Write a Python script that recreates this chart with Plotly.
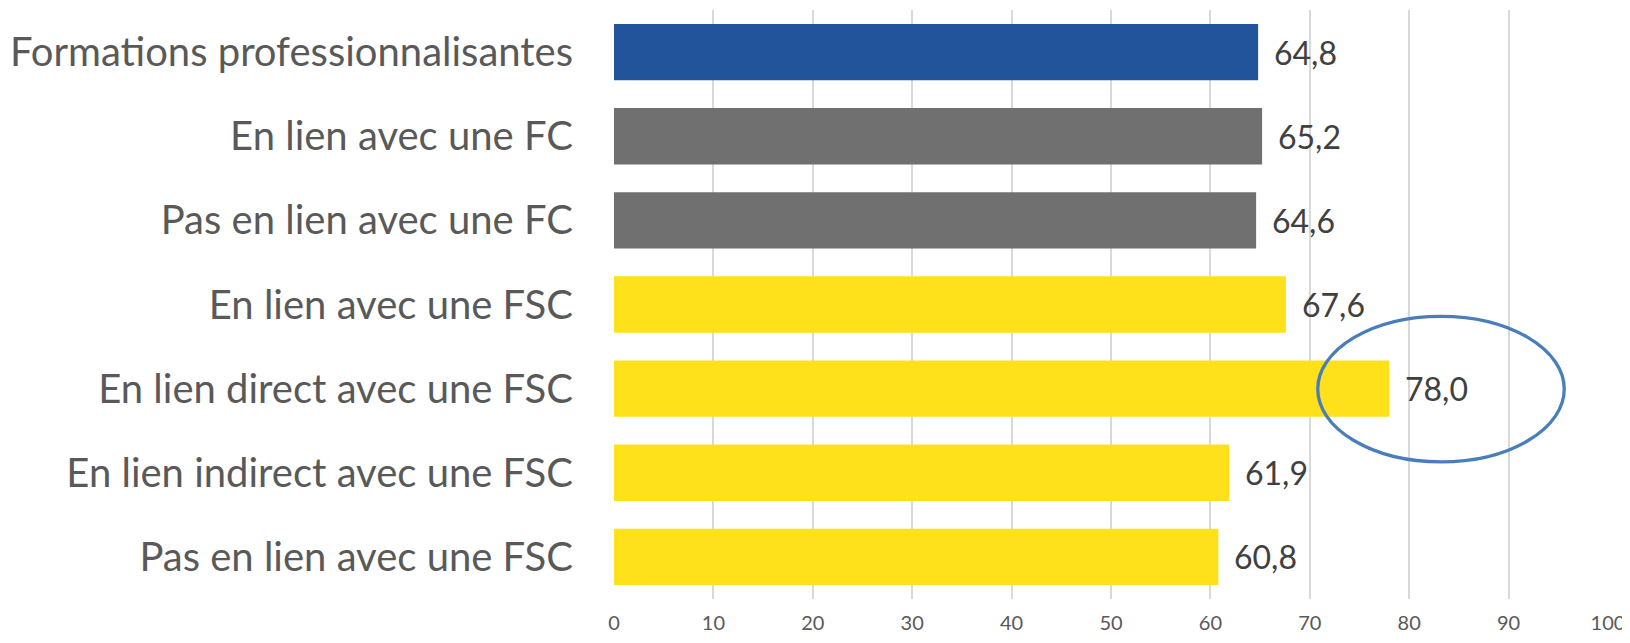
import plotly.graph_objects as go

categories = [
    "Formations professionnalisantes",
    "En lien avec une FC",
    "Pas en lien avec une FC",
    "En lien avec une FSC",
    "En lien direct avec une FSC",
    "En lien indirect avec une FSC",
    "Pas en lien avec une FSC",
]
values = [64.8, 65.2, 64.6, 67.6, 78.0, 61.9, 60.8]
bar_colors = ["#21549A", "#707070", "#707070", "#FEE11B", "#FEE11B", "#FEE11B", "#FEE11B"]
x_ticks = [0, 10, 20, 30, 40, 50, 60, 70, 80, 90, 100]

fig = go.Figure()
fig.add_trace(go.Bar(
    y=categories,
    x=values,
    orientation="h",
    marker=dict(color=bar_colors, line=dict(width=0)),
    showlegend=False,
    hoverinfo="skip",
))

for cat, v in zip(categories, values):
    fig.add_annotation(
        x=v, y=cat, xref="x", yref="y",
        text=f"{v:.1f}".replace(".", ","),
        showarrow=False, xanchor="left", xshift=14,
        font=dict(family="Lato", size=32, color="#404040"),
    )

# highlight ellipse around the "En lien direct avec une FSC" value
fig.add_shape(
    type="circle", xref="x", yref="y",
    x0=70.8, x1=95.6, y0=3.14, y1=4.87,
    line=dict(color="#4A7EBB", width=3.3),
    fillcolor="rgba(0,0,0,0)",
)

# page body has an 8px default margin, so the figure is sized to fit the window
fig.update_layout(
    width=1622, height=635,
    margin=dict(l=606, r=22, t=2, b=44),
    paper_bgcolor="white", plot_bgcolor="white",
    bargap=0.33,
    xaxis=dict(
        range=[0, 100], tickvals=x_ticks, showgrid=True,
        gridcolor="#D9D9D9", gridwidth=1.5, zeroline=False,
        showline=False, ticks="", automargin=False,
        ticklabelstandoff=10,
        tickfont=dict(family="Lato", size=20, color="#595959"),
    ),
    yaxis=dict(
        categoryorder="array", categoryarray=categories,
        autorange="reversed", showgrid=False, zeroline=False,
        showline=False, ticks="", ticklabelstandoff=40, automargin=False,
        tickfont=dict(family="Lato", size=40, color="#595959"),
    ),
)

fig.write_html("out.html")
